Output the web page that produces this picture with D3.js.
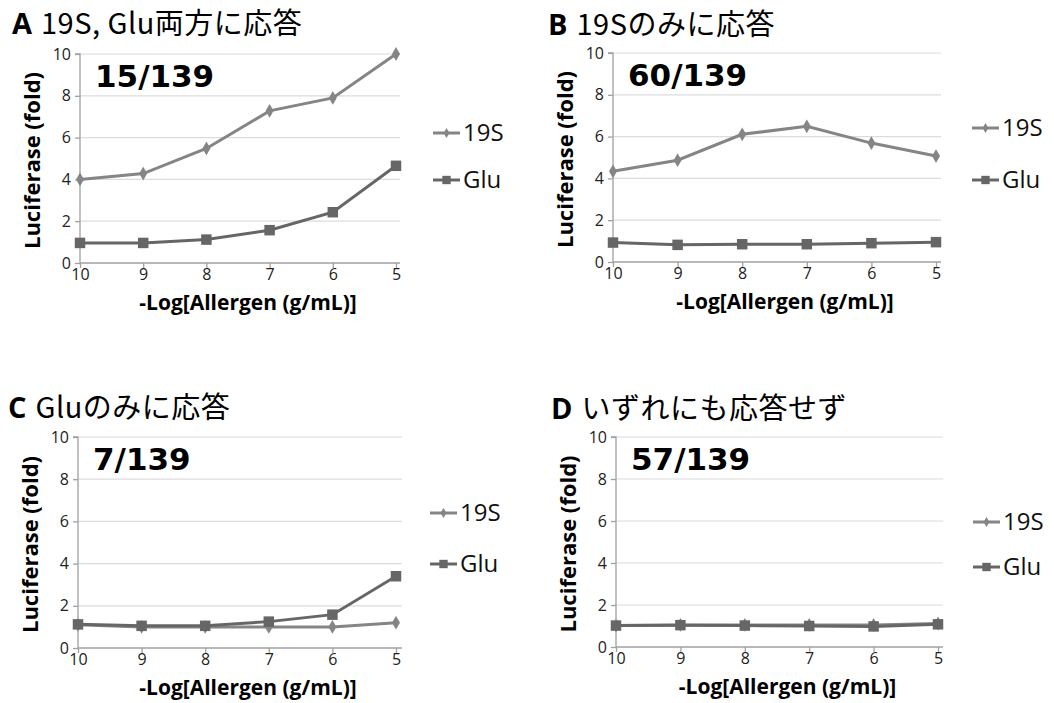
<!DOCTYPE html>
<meta charset="utf-8">
<script src="https://d3js.org/d3.v7.min.js"></script>
<style>
  body { margin: 0; background: #fff; }
  text { font-family: "Noto Sans CJK JP", "Noto Sans", sans-serif; }
</style>
<div id="chart"></div>
<script>
// x categories: -log concentration
var doses = [10, 9, 8, 7, 6, 5];
var yTicks = [0, 2, 4, 6, 8, 10];
var seriesNames = ["19S", "Glu"];

// panel texts
var panelLetters = ["A", "B", "C", "D"];
var panelTitles = ["19S, Glu両方に応答", "19Sのみに応答", "Gluのみに応答", "いずれにも応答せず"];
var panelCounts = ["15/139", "60/139", "7/139", "57/139"];

// values (fold)
var a19S = [4.0, 4.28, 5.48, 7.28, 7.9, 10.0];
var aGlu = [0.96, 0.96, 1.12, 1.57, 2.43, 4.65];
var b19S = [4.34, 4.87, 6.11, 6.49, 5.69, 5.07];
var bGlu = [0.93, 0.82, 0.85, 0.85, 0.9, 0.95];
var c19S = [1.1, 1.0, 1.0, 1.0, 1.0, 1.2];
var cGlu = [1.12, 1.05, 1.05, 1.25, 1.58, 3.4];
var d19S = [1.02, 1.05, 1.05, 1.05, 1.05, 1.12];
var dGlu = [1.02, 1.04, 1.02, 1.0, 0.98, 1.08];

var panelData = [[a19S, aGlu], [b19S, bGlu], [c19S, cGlu], [d19S, dGlu]];

// plot box for each panel
var boxes = [
  {left: 80, right: 400, top: 54, bottom: 263, xEnd: 396, titleX: 12, titleY: 34, legX: 433, legY: [133, 180]},
  {left: 613, right: 941, top: 53, bottom: 262, xEnd: 936, titleX: 548, titleY: 35, legX: 972, legY: [128, 180]},
  {left: 78, right: 402, top: 437, bottom: 648, xEnd: 396, titleX: 8, titleY: 418, legX: 430, legY: [513, 564]},
  {left: 616, right: 943, top: 437, bottom: 647, xEnd: 938, titleX: 551, titleY: 419, legX: 973, legY: [522, 567]}
];

var colors = {"19S": "#858585", "Glu": "#666666"};

var svg = d3.select("#chart").append("svg")
  .attr("width", 1054)
  .attr("height", 703);

panelData.forEach(function(series, i) {
  var b = boxes[i];
  var g = svg.append("g");

  var x = d3.scalePoint().domain(doses).range([b.left, b.xEnd]);
  var y = d3.scaleLinear().domain([0, 10]).range([b.bottom, b.top]);

  // gridlines
  g.selectAll(".grid").data(yTicks.slice(1)).enter().append("line")
    .attr("x1", b.left).attr("x2", b.right)
    .attr("y1", function(d) { return y(d); })
    .attr("y2", function(d) { return y(d); })
    .attr("stroke", "#dcdcdc").attr("stroke-width", 1.2);

  // y axis
  var ya = g.append("g")
    .attr("transform", "translate(" + b.left + ",0)")
    .call(d3.axisLeft(y).tickValues(yTicks).tickSize(5).tickPadding(4));
  // x axis
  var xa = g.append("g")
    .attr("transform", "translate(0," + b.bottom + ")")
    .call(d3.axisBottom(x).tickSize(5).tickPadding(1).tickSizeOuter(0));
  xa.select(".domain").attr("d", "M" + b.left + ",0H" + b.right);
  ya.select(".domain").attr("d", "M-5," + b.top + "H0V" + b.bottom);
  [ya, xa].forEach(function(ax) {
    ax.select(".domain").attr("stroke", "#a0a0a0").attr("stroke-width", 1.3);
    ax.selectAll(".tick line").attr("stroke", "#a0a0a0").attr("stroke-width", 1.3);
    ax.selectAll(".tick text")
      .attr("fill", "#222")
      .style("font-family", "'Open Sans', sans-serif")
      .style("font-size", "16px");
  });

  // axis titles
  g.append("text")
    .attr("transform", "translate(" + (b.left - 40) + "," + ((b.top + b.bottom) / 2 + 2) + ") rotate(-90)")
    .attr("text-anchor", "middle")
    .style("font-family", "'Open Sans', sans-serif")
    .style("font-weight", "bold")
    .style("font-size", "22px")
    .text("Luciferase (fold)");
  g.append("text")
    .attr("x", (b.left + b.right) / 2 + 8)
    .attr("y", b.bottom + 47)
    .attr("text-anchor", "middle")
    .style("font-family", "'Open Sans', sans-serif")
    .style("font-weight", "bold")
    .style("font-size", "21px")
    .text("-Log[Allergen (g/mL)]");

  // panel title
  var t = g.append("text")
    .attr("x", b.titleX).attr("y", b.titleY)
    .style("font-size", "29px");
  t.append("tspan").style("font-weight", "bold").style("font-family", "'Open Sans', sans-serif").text(panelLetters[i]);
  t.append("tspan").attr("dx", 9).style("letter-spacing", "0.5px").text(panelTitles[i]);

  // count label
  g.append("text")
    .attr("x", b.left + 15)
    .attr("y", b.top + 33)
    .style("font-family", "'DejaVu Sans', sans-serif")
    .style("font-weight", "bold")
    .style("font-size", "31px")
    .text(panelCounts[i]);

  // lines and markers
  var line = d3.line()
    .x(function(d, j) { return x(doses[j]); })
    .y(function(d) { return y(d); });

  series.forEach(function(vals, s) {
    var name = seriesNames[s];
    g.append("path")
      .attr("d", line(vals))
      .attr("fill", "none")
      .attr("stroke", colors[name])
      .attr("stroke-width", 3);
    var sym = s === 0 ? d3.symbolDiamond : d3.symbolSquare;
    var size = s === 0 ? 55 : 110;
    g.selectAll(".m" + s).data(vals).enter().append("path")
      .attr("transform", function(d, j) { return "translate(" + x(doses[j]) + "," + y(d) + ")"; })
      .attr("d", d3.symbol().type(sym).size(size))
      .attr("fill", colors[name]);

    // legend
    var ly = b.legY[s];
    g.append("line")
      .attr("x1", b.legX).attr("x2", b.legX + 27)
      .attr("y1", ly).attr("y2", ly)
      .attr("stroke", colors[name]).attr("stroke-width", 3);
    g.append("path")
      .attr("transform", "translate(" + (b.legX + 13.5) + "," + ly + ")")
      .attr("d", d3.symbol().type(sym).size(s === 0 ? 30 : 70))
      .attr("fill", colors[name]);
    g.append("text")
      .attr("x", b.legX + 30)
      .attr("y", ly + 8)
      .style("font-family", "'Open Sans', sans-serif")
      .style("font-size", "24px")
      .attr("fill", "#111")
      .text(name);
  });
});
</script>
